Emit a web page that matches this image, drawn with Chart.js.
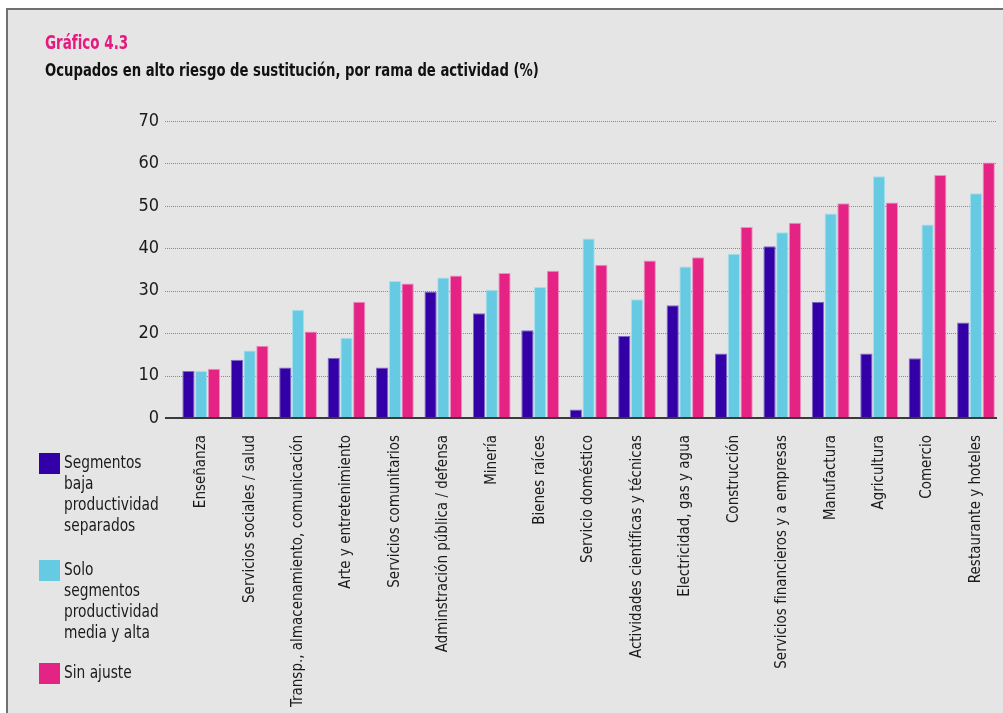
<!DOCTYPE html>
<html lang="es">
<head>
<meta charset="utf-8">
<title>Gráfico 4.3</title>
<script src="https://cdn.jsdelivr.net/npm/chart.js@4"></script>
<style>
  body { margin: 0; background: #fff; font-family: "DejaVu Sans Condensed", sans-serif; color: #1a1a1a; }
  #wrap { position: relative; width: 1003px; height: 713px; overflow: hidden; }
  #frame { position: absolute; left: 6px; top: 8px; width: 1020px; height: 730px; border: 2px solid #707070; background: #e5e5e5; }
  #chart { position: absolute; left: 0; top: 0; }
  .head { position: absolute; left: 45px; font-weight: bold; white-space: nowrap; transform-origin: left top; }
  #num { top: 31px; font-size: 19px; color: #e5197f; transform: scaleX(0.79); }
  #sub { top: 59px; font-size: 18px; color: #111; transform: scaleX(0.815); }
  .item { position: absolute; left: 39px; }
  .item .sw { position: absolute; left: 0; top: 0; width: 21px; height: 21px; }
  .item .tx { position: absolute; left: 25px; top: -1px; font-size: 17px; line-height: 21px; white-space: nowrap;
              transform: scaleX(0.9); transform-origin: left top; }
</style>
</head>
<body>
<div id="wrap">
  <div id="frame"></div>
  <canvas id="chart" width="1003" height="713"></canvas>
  <div class="head" id="num">Gráfico 4.3</div>
  <div class="head" id="sub">Ocupados en alto riesgo de sustitución, por rama de actividad (%)</div>
  <div id="legend"></div>
</div>
<script>
// ---------------- Data ----------------
const categories = [
    "Enseñanza", "Servicios sociales / salud", "Transp., almacenamiento, comunicación",
    "Arte y entretenimiento", "Servicios comunitarios", "Adminstración pública / defensa",
    "Minería", "Bienes raíces", "Servicio doméstico", "Actividades científicas y técnicas",
    "Electricidad, gas y agua", "Construcción", "Servicios financieros y a empresas",
    "Manufactura", "Agricultura", "Comercio", "Restaurante y hoteles"
];
const bajaSeparados = [11.1, 13.7, 11.9, 14.2, 11.9, 29.8, 24.7, 20.7, 2.0, 19.3, 26.6, 15.2, 40.5, 27.4, 15.2, 14.1, 22.5];
const soloMediaAlta = [11.1, 15.9, 25.5, 18.9, 32.3, 33.1, 30.2, 30.9, 42.3, 28.0, 35.7, 38.7, 43.8, 48.2, 57.0, 45.6, 53.0];
const sinAjuste     = [11.6, 17.0, 20.4, 27.4, 31.7, 33.6, 34.2, 34.7, 36.1, 37.1, 37.9, 45.0, 46.0, 50.6, 50.8, 57.3, 60.2];
const seriesLabels = [
    ["Segmentos", "baja", "productividad", "separados"],
    ["Solo", "segmentos", "productividad", "media y alta"],
    ["Sin ajuste"]
];
const yTicks = [0, 10, 20, 30, 40, 50, 60, 70];

const colors = ["#3300a8", "#66cae3", "#e52385"];
const borders = ["#7d6cc4", "#a6e0ee", "#f08ec0"];
const FONT = '"DejaVu Sans Condensed", sans-serif';

// ---------------- Legend (HTML) ----------------
const legendTops = [453, 560, 663];
const legend = document.getElementById("legend");
seriesLabels.forEach((lines, i) => {
    const item = document.createElement("div");
    item.className = "item";
    item.style.top = legendTops[i] + "px";
    item.innerHTML = `<div class="sw" style="background:${colors[i]}"></div>
        <div class="tx">${lines.join("<br>")}</div>`;
    legend.appendChild(item);
});

// ---------------- Grid plugin ----------------
const gridPlugin = {
    id: "dottedGrid",
    beforeDatasetsDraw(chart, args, opts) {
        const ctx = chart.ctx;
        const y = chart.scales.y;
        ctx.save();
        ctx.strokeStyle = "#8a8a8a";
        ctx.lineWidth = 1;
        ctx.setLineDash([1, 1]);
        yTicks.forEach(v => {
            if (v === 0) return;
            const py = Math.round(y.getPixelForValue(v)) + 0.5;
            ctx.beginPath();
            ctx.moveTo(opts.left, py);
            ctx.lineTo(opts.right, py);
            ctx.stroke();
        });
        ctx.restore();
    },
    afterDatasetsDraw(chart, args, opts) {
        const ctx = chart.ctx;
        const py = chart.scales.y.getPixelForValue(0);
        ctx.save();
        ctx.strokeStyle = "#3a3a3a";
        ctx.lineWidth = 2;
        ctx.beginPath();
        ctx.moveTo(opts.left, py);
        ctx.lineTo(opts.right, py);
        ctx.stroke();
        ctx.restore();
    }
};

// ---------------- Chart ----------------
const datasets = [bajaSeparados, soloMediaAlta, sinAjuste].map((vals, i) => ({
    label: seriesLabels[i].join(" "),
    data: vals,
    backgroundColor: colors[i],
    borderColor: borders[i],
    borderWidth: 1,
    categoryPercentage: 0.79,
    barPercentage: 0.96
}));

new Chart(document.getElementById("chart"), {
    type: "bar",
    data: { labels: categories, datasets: datasets },
    plugins: [gridPlugin],
    options: {
        responsive: false,
        animation: false,
        layout: { autoPadding: false, padding: { top: 121, right: 1, left: 0, bottom: 0 } },
        scales: {
            x: {
                grid: { display: false },
                border: { display: false },
                afterFit: (s) => { s.height = 295; },
                ticks: {
                    autoSkip: false,
                    minRotation: 90,
                    maxRotation: 90,
                    padding: 9,
                    color: "#1a1a1a",
                    font: { family: FONT, size: 15 }
                }
            },
            y: {
                min: 0,
                max: 70,
                grid: { display: false, drawTicks: false },
                border: { display: false },
                afterFit: (s) => { s.width = 177; },
                afterBuildTicks: (s) => { s.ticks = yTicks.map(v => ({ value: v })); },
                ticks: {
                    padding: 18,
                    color: "#1a1a1a",
                    font: { family: FONT, size: 18 }
                }
            }
        },
        plugins: {
            legend: { display: false },
            tooltip: { enabled: false },
            dottedGrid: { left: 165, right: 997 }
        }
    }
});
</script>
</body>
</html>
